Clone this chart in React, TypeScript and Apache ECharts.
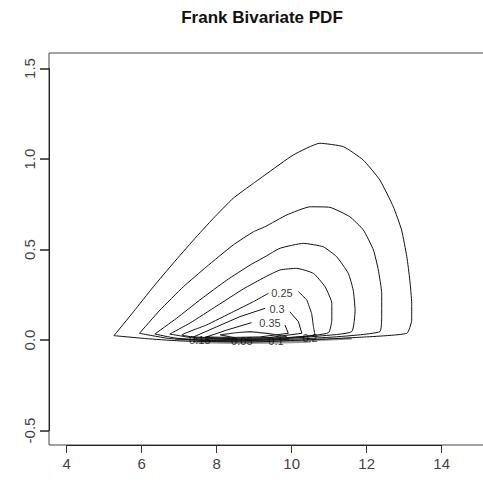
import React, { useEffect, useRef } from "react";
import * as echarts from "echarts";

const FONT = "'Liberation Sans', Arial, Helvetica, sans-serif";

const xTicks = [4, 6, 8, 10, 12, 14];
const yTicks = [-0.5, 0.0, 0.5, 1.0, 1.5];

// Contour lines of the Frank bivariate PDF (x, y)
const level005 = [
  [5.26, 0.024], [5.78, 0.156], [6.31, 0.294], [6.84, 0.424], [7.38, 0.552], [7.91, 0.672],
  [8.44, 0.783], [8.98, 0.866], [9.29, 0.912], [10.04, 1.022], [10.75, 1.087], [11.38, 1.068],
  [11.91, 0.994], [12.35, 0.884], [12.71, 0.736], [12.93, 0.608], [13.07, 0.46], [13.15, 0.331],
  [13.2, 0.203], [13.2, 0.11], [13.07, 0.037], [11.82, 0.015], [10.75, 0.004], [8.89, -0.011],
  [7.11, -0.006], [6.22, 0.006], [5.26, 0.024],
];
const level010 = [
  [5.94, 0.037], [6.49, 0.166], [7.11, 0.294], [7.73, 0.405], [8.44, 0.525], [8.98, 0.598],
  [9.29, 0.626], [9.87, 0.691], [10.49, 0.736], [11.02, 0.733], [11.55, 0.681], [11.91, 0.608],
  [12.18, 0.497], [12.31, 0.387], [12.4, 0.258], [12.4, 0.129], [12.35, 0.046], [11.29, 0.019],
  [10.22, 0.006], [8.36, -0.006], [6.75, 0.008], [5.94, 0.037],
];
const level015 = [
  [6.35, 0.033], [6.93, 0.12], [7.55, 0.221], [8.27, 0.331], [8.89, 0.414], [9.29, 0.46],
  [9.69, 0.507], [10.31, 0.534], [10.84, 0.515], [11.2, 0.46], [11.51, 0.368], [11.64, 0.276],
  [11.69, 0.166], [11.6, 0.046], [10.75, 0.022], [9.69, 0.006], [7.82, -0.003], [6.89, 0.011],
  [6.35, 0.033],
];
const level020 = [
  [6.75, 0.033], [7.29, 0.094], [8.0, 0.188], [8.71, 0.282], [9.29, 0.348], [9.69, 0.387],
  [10.13, 0.396], [10.58, 0.368], [10.89, 0.294], [11.07, 0.203], [11.07, 0.11], [10.98, 0.04],
  [10.22, 0.017], [8.89, 0.003], [7.55, 0.006], [6.75, 0.033],
];
const level025 = [
  [10.18, 0.267], [10.4, 0.221], [10.53, 0.147], [10.58, 0.073], [10.62, 0.028], [9.69, 0.011],
  [8.36, 0.006], [7.55, 0.011], [7.07, 0.028], [7.73, 0.083], [8.44, 0.156], [8.98, 0.212],
  [9.38, 0.258],
];
const level030 = [
  [9.95, 0.156], [10.18, 0.101], [10.27, 0.037], [9.42, 0.014], [8.36, 0.008], [7.38, 0.017],
  [8.0, 0.073], [8.62, 0.129], [9.29, 0.175],
];
const level035 = [
  [9.82, 0.083], [9.91, 0.037], [9.15, 0.017], [8.36, 0.014], [7.73, 0.017], [8.27, 0.055],
  [8.93, 0.096],
];
const level040 = [
  [8.09, 0.028], [8.5, 0.04], [8.89, 0.046], [9.4, 0.035], [9.87, 0.018], [9.3, 0.006],
  [8.6, 0.008], [8.09, 0.028],
];
// squashed high-density contours along y = 0
const bandA = [[6.9, 0.004], [8.0, -0.004], [9.0, -0.006], [10.0, -0.004], [11.0, 0.003], [11.6, 0.008]];
const bandB = [[7.4, -0.012], [8.5, -0.016], [9.5, -0.015], [10.5, -0.01]];
const bandC = [[8.2, 0.0], [9.9, 0.0]];

const contourLabels = [
  [9.74, 0.26, "0.25"],
  [9.61, 0.171, "0.3"],
  [9.42, 0.094, "0.35"],
  [7.55, 0.0, "0.15"],
  [8.67, -0.008, "0.05"],
  [9.58, -0.003, "0.1"],
  [10.49, 0.011, "0.2"],
];

export default function App() {
  const ref = useRef<HTMLDivElement>(null);
  useEffect(() => {
    if (!ref.current) return;
    const chart = echarts.init(ref.current, null, { renderer: "svg" });
    const contour = (data: number[][], color = "#111", width = 1, smooth = 0) => ({
      type: "line",
      data,
      symbol: "none",
      showSymbol: false,
      silent: true,
      clip: false,
      smooth,
      xAxisIndex: 0,
      yAxisIndex: 0,
      lineStyle: { color, width },
      z: 3,
    });
    chart.setOption({
      animation: false,
      backgroundColor: "#fff",
      textStyle: { fontFamily: FONT },
      graphic: [
        {
          type: "text",
          x: 262,
          y: 17,
          style: {
            text: "Frank Bivariate PDF",
            font: `bold 17px ${FONT}`,
            fill: "#111",
            textAlign: "center",
            textVerticalAlign: "middle",
          },
        },
      ],
      grid: [
        // axis span: x 4..14, y -0.5..1.5 (R draws axes from first to last tick)
        {
          left: 66.7,
          top: 68.5,
          width: 375,
          height: 362,
          outerBoundsMode: "none",
          containLabel: false,
          show: false,
        },
        // plot frame box
        {
          left: 49,
          top: 53,
          width: 454,
          height: 392,
          outerBoundsMode: "none",
          containLabel: false,
          show: true,
          borderColor: "#444",
          borderWidth: 1,
          backgroundColor: "transparent",
        },
      ],
      xAxis: [
        {
          gridIndex: 0,
          type: "value",
          min: xTicks[0],
          max: xTicks[xTicks.length - 1],
          interval: 2,
          offset: 14.5,
          axisLine: { show: true, onZero: false, lineStyle: { color: "#222", width: 1 } },
          splitLine: { show: false },
          axisTick: { show: true, length: 8, lineStyle: { color: "#333" } },
          axisLabel: { margin: 11, fontSize: 15, color: "#444", fontFamily: FONT },
        },
        { gridIndex: 1, type: "value", show: false, min: 0, max: 1 },
      ],
      yAxis: [
        {
          gridIndex: 0,
          type: "value",
          min: yTicks[0],
          max: yTicks[yTicks.length - 1],
          interval: 0.5,
          offset: 17.7,
          axisLine: { show: true, onZero: false, lineStyle: { color: "#222", width: 1 } },
          splitLine: { show: false },
          axisTick: { show: true, inside: false, length: 9, lineStyle: { color: "#222", width: 1.5 } },
          axisLabel: {
            rotate: 90,
            margin: 12,
            fontSize: 15,
            color: "#444",
            fontFamily: FONT,
            formatter: (v: number) => v.toFixed(1),
          },
        },
        { gridIndex: 1, type: "value", show: false, min: 0, max: 1 },
      ],
      series: [
        contour(bandB, "#999", 2),
        contour(bandA, "#888", 2),
        contour(bandC, "#777", 2),
        contour(level005, "#111", 1, 0.15),
        contour(level010, "#111", 1, 0.15),
        contour(level015, "#111", 1, 0.15),
        contour(level020, "#111", 1, 0.15),
        contour(level025, "#111", 1, 0.1),
        contour(level030),
        contour(level035),
        contour(level040, "#333", 1.2),
        {
          type: "scatter",
          xAxisIndex: 0,
          yAxisIndex: 0,
          data: contourLabels.map((d) => ({ value: [d[0], d[1]], name: d[2] })),
          symbolSize: 0,
          silent: true,
          clip: false,
          itemStyle: { color: "#000" },
          z: 5,
          label: {
            show: true,
            position: "inside",
            formatter: (p: any) => p.name,
            fontSize: 11,
            color: "#000",
            textBorderWidth: 0,
            fontFamily: FONT,
          },
        },
      ],
    });
    return () => chart.dispose();
  }, []);
  return (
    <div
      ref={ref}
      style={{ position: "fixed", left: 0, top: 0, width: 483, height: 482, background: "#fff" }}
    />
  );
}
